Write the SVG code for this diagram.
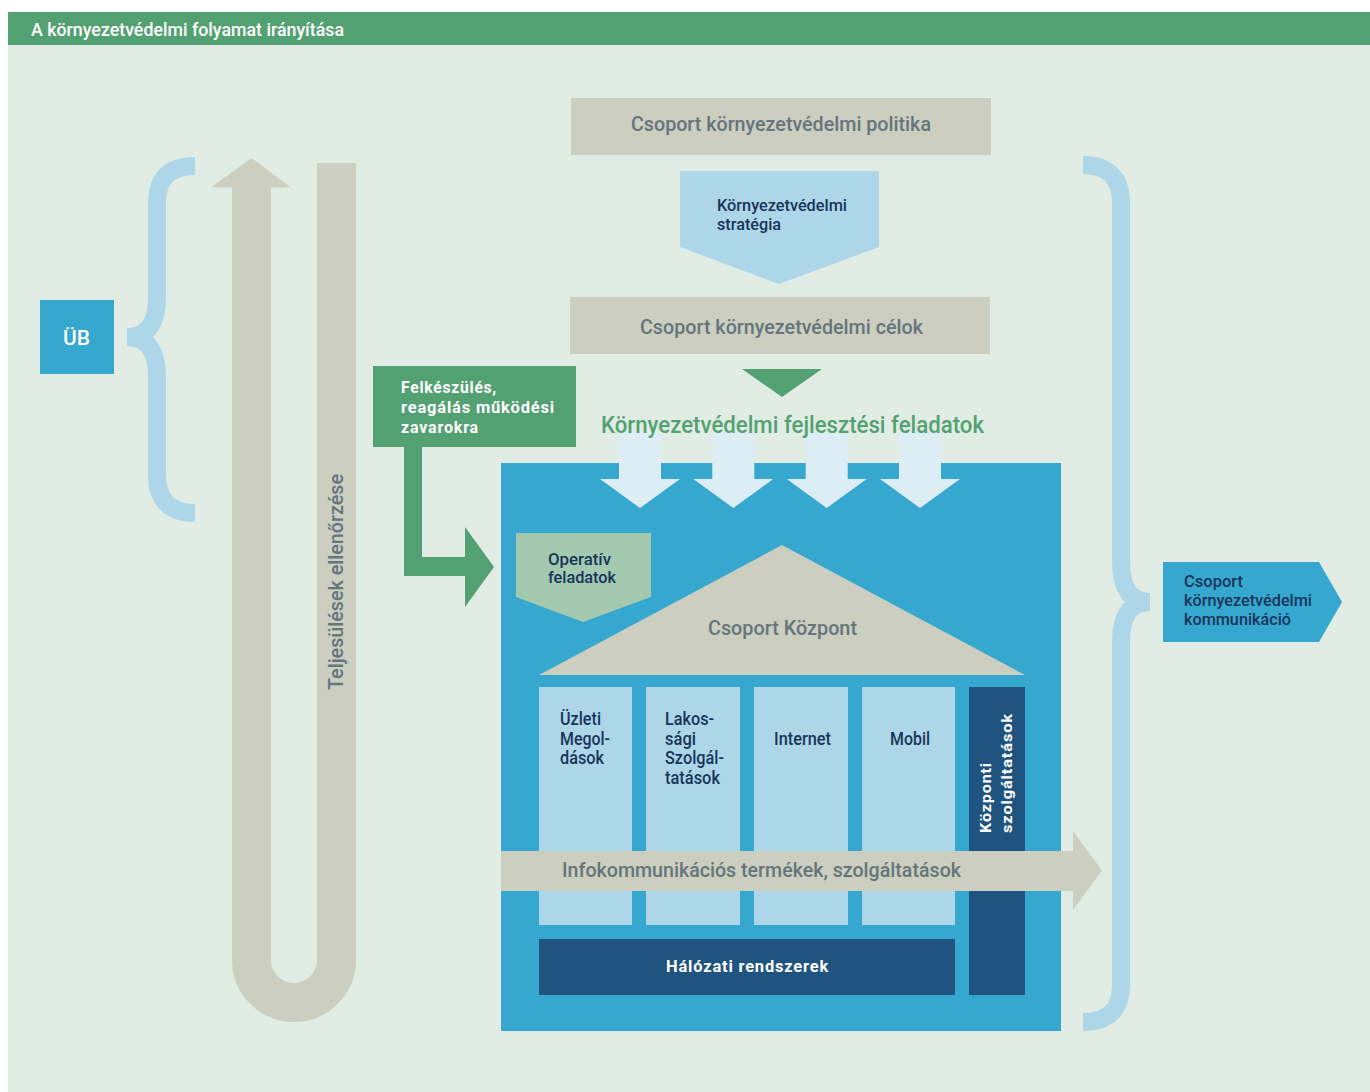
<svg xmlns="http://www.w3.org/2000/svg" width="1370" height="1092" viewBox="0 0 1370 1092">
  <defs>
    <style>
      text { font-family: Roboto, "Liberation Sans", "DejaVu Sans", sans-serif; }
      .gray { fill: #66747C; font-weight: 500; }
      .navy { fill: #17355A; font-weight: 500; }
      .white { fill: #FFFFFF; font-weight: 500; }
      .wide { fill: #FFFFFF; font-weight: 700; letter-spacing: 0.8px; }
      .stone { fill: #CCCEC0; }
      .sky { fill: #ADD6E8; }
      .blue { fill: #36A7CE; }
      .navyfill { fill: #1F5480; }
      .green { fill: #53A173; }
      .brace { fill: none; stroke: #ADD6E8; stroke-width: 18; stroke-linecap: butt; }
    </style>
    <!-- light down arrow used four times above the main panel -->
    <polygon id="downArrow" points="-21,0 21,0 21,46 40,46 0,75 -40,46 -21,46" fill="#DDEDF5"/>
  </defs>

  <!-- page and header -->
  <rect x="0" y="0" width="1370" height="1092" fill="#FFFFFF"/>
  <rect x="8" y="45" width="1362" height="1047" fill="#E0ECE4"/>
  <g id="header">
    <rect x="8" y="12" width="1362" height="33" class="green"/>
    <text x="31" y="36" font-size="19" class="white" textLength="313" lengthAdjust="spacingAndGlyphs">A környezetvédelmi folyamat irányítása</text>
  </g>

  <!-- connectors and braces -->
  <g id="connectors">
    <!-- left brace -->
    <path class="brace" d="M195,166 C170,166 157,178 157,203 L157,297 C157,323 148,337 127,337 M127,337 C148,337 157,351 157,377 L157,475 C157,500 170,513 195,513"/>
    <!-- right brace -->
    <path class="brace" d="M1083,165 C1108,165 1121,178 1121,203 L1121,562 C1121,588 1130,602 1150,602 M1150,602 C1130,602 1121,616 1121,642 L1121,985 C1121,1010 1108,1022 1083,1022"/>
    <!-- U-shaped feedback arrow -->
    <path d="M251.5,186 L251.5,960 A42.5,42.5 0 0 0 336.5,960 L336.5,163" fill="none" stroke="#CCCEC0" stroke-width="39"/>
    <polygon class="stone" points="211,187.5 251.5,158 291,187.5"/>
    <!-- green elbow arrow -->
    <polygon class="green" points="404,446 422,446 422,557 465,557 465,527 494,567 465,607 465,576 404,576"/>
    <!-- green triangle under goals -->
    <polygon class="green" points="742,369 822,369 782,397"/>
  </g>

  <g id="ub">
    <rect x="40" y="300" width="74" height="74" class="blue"/>
    <text x="63" y="345" font-size="20" class="white" textLength="27" lengthAdjust="spacingAndGlyphs">ÜB</text>
  </g>

  <g id="teljesules-label">
    <text transform="translate(343,582) rotate(-90)" font-size="20" class="gray" text-anchor="middle" textLength="216" lengthAdjust="spacingAndGlyphs">Teljesülések ellenőrzése</text>
  </g>

  <g id="politika">
    <rect x="571" y="98" width="420" height="57" class="stone"/>
    <text x="631" y="131" font-size="21" class="gray" textLength="300" lengthAdjust="spacingAndGlyphs">Csoport környezetvédelmi politika</text>
  </g>

  <g id="strategia">
    <polygon class="sky" points="680,171 879,171 879,247 779,284 680,247"/>
    <text x="717" y="211" font-size="17" class="navy" textLength="130" lengthAdjust="spacingAndGlyphs">Környezetvédelmi</text>
    <text x="717" y="230" font-size="17" class="navy" textLength="64" lengthAdjust="spacingAndGlyphs">stratégia</text>
  </g>

  <g id="celok">
    <rect x="570" y="297" width="420" height="57" class="stone"/>
    <text x="640" y="334" font-size="21" class="gray" textLength="283" lengthAdjust="spacingAndGlyphs">Csoport környezetvédelmi célok</text>
  </g>

  <g id="felkeszules">
    <rect x="373" y="366" width="203" height="81" class="green"/>
    <text x="401" y="393" font-size="16" class="wide" textLength="96" lengthAdjust="spacingAndGlyphs">Felkészülés,</text>
    <text x="401" y="413" font-size="16" class="wide" textLength="154" lengthAdjust="spacingAndGlyphs">reagálás működési</text>
    <text x="401" y="433" font-size="16" class="wide" textLength="78" lengthAdjust="spacingAndGlyphs">zavarokra</text>
  </g>

  <!-- main company panel -->
  <g id="panel">
    <rect x="501" y="463" width="560" height="568" class="blue"/>
  </g>

  <g id="fejlesztesi-feladatok">
    <use href="#downArrow" x="640" y="433"/>
    <use href="#downArrow" x="733.3" y="433"/>
    <use href="#downArrow" x="826.7" y="433"/>
    <use href="#downArrow" x="920" y="433"/>
    <text x="601" y="433" font-size="24" fill="#53A173" font-weight="500" textLength="383" lengthAdjust="spacingAndGlyphs">Környezetvédelmi fejlesztési feladatok</text>
  </g>

  <g id="operativ">
    <polygon fill="#A3C9AF" points="516,533 651,533 651,597 583,622 516,597"/>
    <text x="548" y="565" font-size="17" class="navy" textLength="63" lengthAdjust="spacingAndGlyphs">Operatív</text>
    <text x="548" y="583" font-size="17" class="navy" textLength="68" lengthAdjust="spacingAndGlyphs">feladatok</text>
  </g>

  <g id="kozpont">
    <polygon class="stone" points="539,675 782,545 1025,675"/>
    <text x="708" y="635" font-size="21" class="gray" textLength="149" lengthAdjust="spacingAndGlyphs">Csoport Központ</text>
  </g>

  <g id="uzleti">
    <rect x="539" y="687" width="93" height="238" class="sky"/>
    <text x="560" y="725" font-size="17.5" class="navy" textLength="41" lengthAdjust="spacingAndGlyphs">Üzleti</text>
    <text x="560" y="745" font-size="17.5" class="navy" textLength="50" lengthAdjust="spacingAndGlyphs">Megol-</text>
    <text x="560" y="764" font-size="17.5" class="navy" textLength="44" lengthAdjust="spacingAndGlyphs">dások</text>
  </g>

  <g id="lakossagi">
    <rect x="646" y="687" width="94" height="238" class="sky"/>
    <text x="665" y="725" font-size="17.5" class="navy" textLength="49" lengthAdjust="spacingAndGlyphs">Lakos-</text>
    <text x="665" y="745" font-size="17.5" class="navy" textLength="31" lengthAdjust="spacingAndGlyphs">sági</text>
    <text x="665" y="764" font-size="17.5" class="navy" textLength="59" lengthAdjust="spacingAndGlyphs">Szolgál-</text>
    <text x="665" y="784" font-size="17.5" class="navy" textLength="55" lengthAdjust="spacingAndGlyphs">tatások</text>
  </g>

  <g id="internet">
    <rect x="754" y="687" width="94" height="238" class="sky"/>
    <text x="774" y="745" font-size="17.5" class="navy" textLength="57" lengthAdjust="spacingAndGlyphs">Internet</text>
  </g>

  <g id="mobil">
    <rect x="862" y="687" width="93" height="238" class="sky"/>
    <text x="890" y="745" font-size="17.5" class="navy" textLength="40" lengthAdjust="spacingAndGlyphs">Mobil</text>
  </g>

  <g id="kozponti-szolgaltatasok">
    <rect x="969" y="687" width="56" height="308" class="navyfill"/>
    <text transform="translate(991,833) rotate(-90)" font-size="15" class="wide" textLength="71" lengthAdjust="spacingAndGlyphs">Központi</text>
    <text transform="translate(1012,833) rotate(-90)" font-size="15" class="wide" textLength="120" lengthAdjust="spacingAndGlyphs">szolgáltatások</text>
  </g>

  <g id="halozati">
    <rect x="539" y="939" width="416" height="56" class="navyfill"/>
    <text x="666" y="972" font-size="16" class="wide" textLength="163" lengthAdjust="spacingAndGlyphs">Hálózati rendszerek</text>
  </g>

  <g id="infokommunikacio">
    <rect x="501" y="851" width="573" height="40" class="stone"/>
    <polygon class="stone" points="1073,831 1102,870.5 1073,910"/>
    <text x="562" y="877" font-size="20.5" class="gray" textLength="399" lengthAdjust="spacingAndGlyphs">Infokommunikációs termékek, szolgáltatások</text>
  </g>

  <g id="kommunikacio">
    <polygon class="blue" points="1163,562 1319,562 1342,602 1319,642 1163,642"/>
    <text x="1184" y="587" font-size="17" class="navy" textLength="59" lengthAdjust="spacingAndGlyphs">Csoport</text>
    <text x="1184" y="606" font-size="17" class="navy" textLength="128" lengthAdjust="spacingAndGlyphs">környezetvédelmi</text>
    <text x="1184" y="625" font-size="17" class="navy" textLength="107" lengthAdjust="spacingAndGlyphs">kommunikáció</text>
  </g>
</svg>
